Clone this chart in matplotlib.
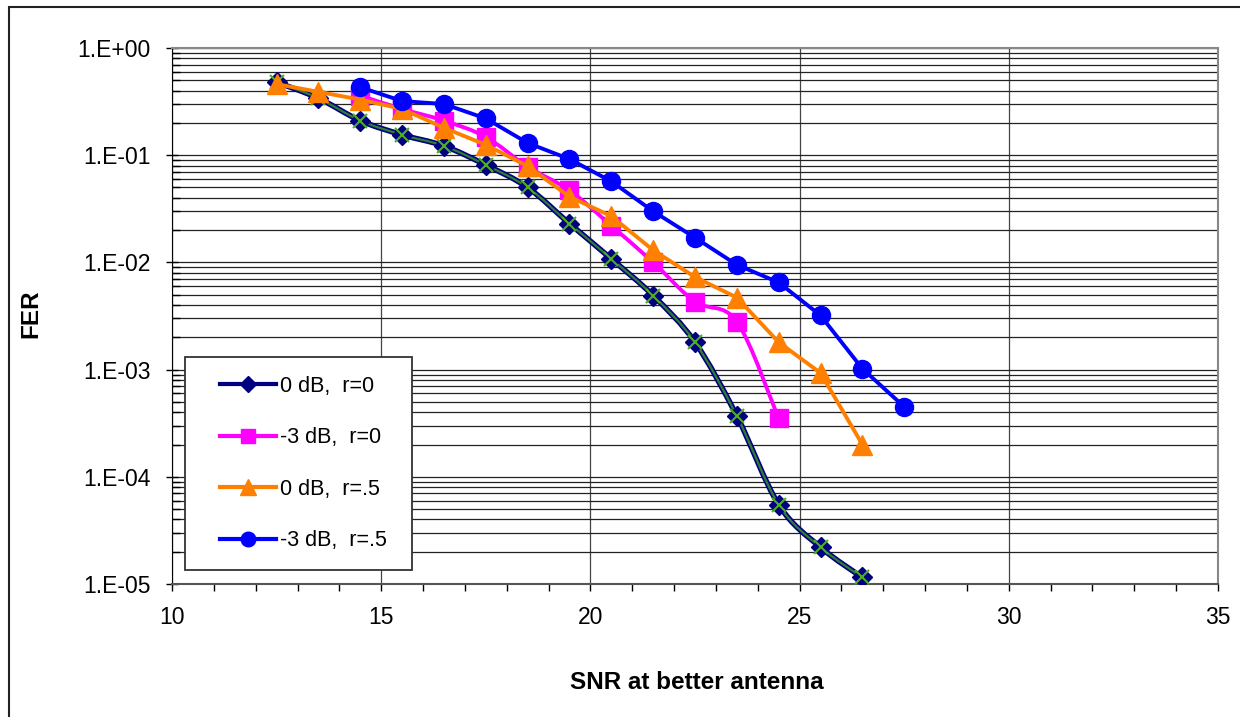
import numpy as np
import matplotlib
matplotlib.use("Agg")
import matplotlib.pyplot as plt
from matplotlib.lines import Line2D
from matplotlib.patches import Rectangle, PathPatch
from matplotlib.path import Path
from matplotlib.ticker import FixedLocator, FuncFormatter, LogLocator, NullFormatter

plt.rcParams['font.family'] = ['Liberation Sans', 'DejaVu Sans']

# data
snr_a = [12.5, 13.5, 14.5, 15.5, 16.5, 17.5, 18.5, 19.5, 20.5, 21.5, 22.5, 23.5, 24.5, 25.5, 26.5]
fer_0db_r0 = [0.48, 0.34, 0.21, 0.155, 0.122, 0.081, 0.050, 0.023, 0.0108, 0.0049, 0.0018,
              0.00037, 5.5e-5, 2.2e-5, 1.15e-5]

snr_b = [14.5, 15.5, 16.5, 17.5, 18.5, 19.5, 20.5, 21.5, 22.5, 23.5, 24.5]
fer_m3db_r0 = [0.36, 0.27, 0.21, 0.148, 0.078, 0.047, 0.022, 0.0100, 0.0043, 0.0028, 0.00035]

snr_c = [12.5, 13.5, 14.5, 15.5, 16.5, 17.5, 18.5, 19.5, 20.5, 21.5, 22.5, 23.5, 24.5, 25.5, 26.5]
fer_0db_r5 = [0.46, 0.39, 0.33, 0.27, 0.18, 0.125, 0.079, 0.041, 0.027, 0.013, 0.0073,
              0.0047, 0.0018, 0.00093, 0.00020]

snr_d = [14.5, 15.5, 16.5, 17.5, 18.5, 19.5, 20.5, 21.5, 22.5, 23.5, 24.5, 25.5, 26.5, 27.5]
fer_m3db_r5 = [0.43, 0.32, 0.30, 0.22, 0.13, 0.092, 0.057, 0.030, 0.017, 0.0095, 0.0065,
               0.0032, 0.00102, 0.00045]

labels = ['0 dB,  r=0', '-3 dB,  r=0', '0 dB,  r=.5', '-3 dB,  r=.5']


def smooth_path(x, y):
    # Excel-like smoothed line: cubic bezier through the points (in x / log y)
    p = np.column_stack([x, np.log10(y)])
    n = len(p)
    verts = [p[0]]
    codes = [Path.MOVETO]
    for i in range(n - 1):
        p0 = p[max(i - 1, 0)]
        p3 = p[min(i + 2, n - 1)]
        c1 = p[i] + (p[i + 1] - p0) / 6.0
        c2 = p[i + 1] - (p3 - p[i]) / 6.0
        verts += [c1, c2, p[i + 1]]
        codes += [Path.CURVE4] * 3
    verts = np.array(verts)
    verts[:, 1] = 10 ** verts[:, 1]
    return Path(verts, codes)


W, H = 1240, 717
fig = plt.figure(figsize=(W / 100, H / 100), dpi=100)
ax = fig.add_axes([172 / W, 1 - 584 / H, (1218 - 172) / W, (584 - 48) / H])

# outer chart frame
fig.patches.append(Rectangle((9 / W, -0.05), 1.2, 1 - 7 / H + 0.05, transform=fig.transFigure,
                             fill=False, edgecolor='#222222', lw=1.5, zorder=0))

ax.set_yscale('log')
ax.set_xlim(10, 35)
ax.set_ylim(1e-5, 1)

ax.yaxis.set_major_locator(FixedLocator([1e-5, 1e-4, 1e-3, 1e-2, 1e-1, 1]))
ax.yaxis.set_minor_locator(LogLocator(base=10, subs=np.arange(2, 10), numticks=20))
ax.yaxis.set_minor_formatter(NullFormatter())
ax.yaxis.set_major_formatter(FuncFormatter(lambda v, p: '1.E%+03d' % int(round(np.log10(v)))))
ax.xaxis.set_major_locator(FixedLocator([10, 15, 20, 25, 30, 35]))
ax.xaxis.set_minor_locator(FixedLocator(np.arange(10, 36, 1)))
ax.grid(True, which='both', axis='y', color='#222222', lw=0.9)
ax.grid(True, which='major', axis='x', color='#444444', lw=0.9)
ax.set_axisbelow(True)

ax.tick_params(axis='y', which='major', direction='inout', length=9, width=1, labelsize=16.5, pad=11)
ax.tick_params(axis='y', which='minor', direction='in', length=6, width=1)
ax.tick_params(axis='x', which='both', direction='out', length=5, width=1, labelsize=16.5, pad=11)

for s in ['top', 'right']:
    ax.spines[s].set_color('#888888')
    ax.spines[s].set_linewidth(1.5)
ax.spines['left'].set_color('black')
ax.spines['bottom'].set_color('#555555')
ax.spines['bottom'].set_linewidth(1.5)

# series
ax.add_patch(PathPatch(smooth_path(snr_a, fer_0db_r0), fill=False, edgecolor='#000080', lw=4, zorder=3))
ax.add_patch(PathPatch(smooth_path(snr_a, fer_0db_r0), fill=False, edgecolor='#2e7d32', lw=1.6, zorder=3.05))
ax.plot(snr_a, fer_0db_r0, ls='none', marker='D', ms=10, mfc='#000080', mec='#000080', zorder=3.1)
ax.plot(snr_a, fer_0db_r0, ls='none', marker='x', ms=10, mew=1.5, mec='#4caf20', zorder=3.15)

ax.add_patch(PathPatch(smooth_path(snr_b, fer_m3db_r0), fill=False, edgecolor='#ff00ff', lw=2.8, zorder=3.2))
ax.plot(snr_b, fer_m3db_r0, ls='none', marker='s', ms=12.5, mfc='#ff00ff', mec='#ff00ff', zorder=3.25)

ax.plot(snr_c, fer_0db_r5, color='#ff8000', lw=2.8, marker='^', ms=14.5, mfc='#ff8000',
        mec='#ff8000', zorder=3.3)
ax.plot(snr_d, fer_m3db_r5, color='#0000ff', lw=2.8, marker='o', ms=13, mfc='#0000ff',
        mec='#0000ff', zorder=3.4)

ax.set_xlabel('SNR at better antenna', fontsize=17.5, fontweight='bold')
ax.set_ylabel('FER', fontsize=17.5, fontweight='bold')
ax.xaxis.set_label_coords(0.502, -0.162)
ax.yaxis.set_label_coords(-0.124, 0.504)

# legend: box drawn by hand, entries centred in it
bx0, by0, bx1, by1 = 185, 357, 412, 570
fig.patches.append(Rectangle((bx0 / W, 1 - by1 / H), (bx1 - bx0) / W, (by1 - by0) / H,
                             transform=fig.transFigure, facecolor='white', edgecolor='#333333',
                             lw=1.3, zorder=5))
handles = [
    Line2D([], [], color='#000080', lw=3, marker='D', ms=8.5),
    Line2D([], [], color='#ff00ff', lw=3, marker='s', ms=10),
    Line2D([], [], color='#ff8000', lw=3, marker='^', ms=12),
    Line2D([], [], color='#0000ff', lw=3, marker='o', ms=10.5),
]
leg = fig.legend(handles, labels, loc='center',
                 bbox_to_anchor=((bx0 + bx1) / 2 / W + 0.004, 1 - (by0 + by1) / 2 / H),
                 fontsize=15.5, frameon=False, labelspacing=1.42, handlelength=2.6,
                 handletextpad=0.2, borderpad=0)
leg.set_zorder(6)

fig.savefig('out.png', dpi=100)
